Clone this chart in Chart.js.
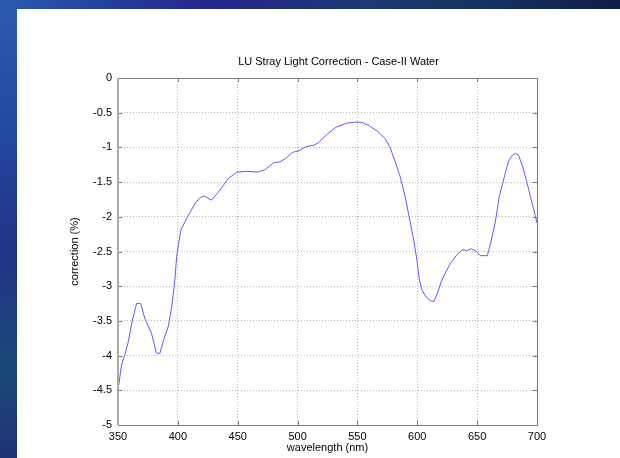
<!DOCTYPE html>
<html>
<head>
<meta charset="utf-8">
<script src="https://cdn.jsdelivr.net/npm/chart.js@4"></script>
<style>
  html, body { margin: 0; padding: 0; background: #fff; }
  #wrap { position: relative; width: 620px; height: 458px; overflow: hidden; background: #fff; }
  #topbar { position: absolute; left: 0; top: 0; width: 620px; height: 9px;
    background: linear-gradient(to right, #2b5cb0 0%, #263a98 20%, #24258a 35%, #1c3a72 60%, #16305e 80%, #0f1d44 100%); }
  #leftbar { position: absolute; left: 0; top: 0; width: 17px; height: 458px;
    background: linear-gradient(to bottom, #2b5cb0 0%, #2248a0 30%, #1f3486 55%, #1b4a78 80%, #1e3274 100%); }
  canvas { position: absolute; left: 0; top: 0; }
</style>
</head>
<body>
<div id="wrap">
  <div id="topbar"></div>
  <div id="leftbar"></div>
  <canvas id="grafico" width="620" height="458"></canvas>
</div>
<script>
// valori
const titolo = "LU Stray Light Correction - Case-II Water";
const lunghezzeOnda = [350, 353, 356, 358.6, 362, 365.5, 369, 372.5, 378, 382, 385, 388, 392, 395, 397.5, 399,
  400.5, 402.5, 406, 410, 415, 419, 422, 428, 435, 442, 449, 457, 467, 473, 480, 485, 490, 496, 501, 507, 513,
  517, 524, 532, 541, 549, 554, 560, 567, 573, 577, 581, 585.5, 590, 594, 597.5, 600, 601.5, 603.5, 607.5, 611,
  614, 617.5, 620.5, 627, 633, 638, 641, 645, 649.5, 652.5, 658.5, 661, 665, 668.5, 672, 676, 679, 682, 684.5,
  688.5, 692.5, 697, 700];
const correzione = [-4.50, -4.13, -3.97, -3.80, -3.49, -3.25, -3.25, -3.47, -3.68, -3.96, -3.97, -3.78, -3.58,
  -3.29, -2.91, -2.57, -2.40, -2.19, -2.07, -1.94, -1.79, -1.72, -1.70, -1.76, -1.62, -1.45, -1.36, -1.345,
  -1.355, -1.32, -1.22, -1.21, -1.16, -1.07, -1.05, -0.99, -0.97, -0.94, -0.82, -0.71, -0.65, -0.635, -0.64,
  -0.69, -0.77, -0.87, -0.99, -1.18, -1.41, -1.72, -2.07, -2.38, -2.66, -2.88, -3.04, -3.16, -3.21, -3.22,
  -3.07, -2.91, -2.69, -2.55, -2.47, -2.49, -2.46, -2.50, -2.56, -2.56, -2.40, -2.09, -1.71, -1.47, -1.21,
  -1.12, -1.085, -1.11, -1.30, -1.57, -1.88, -2.09];
const tickX = [350, 400, 450, 500, 550, 600, 650, 700];
const tickY = [0, -0.5, -1, -1.5, -2, -2.5, -3, -3.5, -4, -4.5, -5];

const font = { family: "'Liberation Sans', Arial, sans-serif", size: 11 };

// cornice, tacche interne e titolo sopra l'area del grafico
const cornice = {
  id: "cornice",
  afterDraw(chart) {
    const ctx = chart.ctx;
    const a = chart.chartArea;
    const sx = chart.scales.x, sy = chart.scales.y;
    ctx.save();
    ctx.strokeStyle = "#7a7a7a";
    ctx.lineWidth = 1;
    ctx.beginPath();
    tickX.forEach(function (v) {
      const px = Math.round(sx.getPixelForValue(v)) + 0.5;
      ctx.moveTo(px, a.bottom); ctx.lineTo(px, a.bottom - 4);
      ctx.moveTo(px, a.top); ctx.lineTo(px, a.top + 4);
    });
    tickY.forEach(function (v) {
      const py = Math.round(sy.getPixelForValue(v)) + 0.5;
      ctx.moveTo(a.left, py); ctx.lineTo(a.left + 4, py);
      ctx.moveTo(a.right, py); ctx.lineTo(a.right - 4, py);
    });
    ctx.stroke();
    ctx.strokeRect(Math.round(a.left) + 0.5, Math.round(a.top) + 0.5,
      Math.round(a.right - a.left), Math.round(a.bottom - a.top));
    ctx.strokeStyle = "#a8a8a8";
    ctx.lineWidth = 2;
    ctx.beginPath();
    ctx.moveTo(Math.round(a.left), a.top);
    ctx.lineTo(Math.round(a.left), a.bottom);
    ctx.stroke();

    ctx.fillStyle = "#000";
    ctx.font = "11px 'Liberation Sans', Arial, sans-serif";
    ctx.textAlign = "center";
    ctx.textBaseline = "middle";
    ctx.fillText(titolo, (a.left + a.right) / 2 + 11, 62);
    ctx.restore();
  }
};

new Chart(document.getElementById("grafico").getContext("2d"), {
  type: "line",
  data: {
    datasets: [{
      data: lunghezzeOnda.map(function (x, i) { return { x: x, y: correzione[i] }; }),
      borderColor: "#5c5cff",
      borderWidth: 1,
      pointRadius: 0,
      tension: 0,
      fill: false
    }]
  },
  options: {
    responsive: false,
    animation: false,
    layout: { padding: { top: 78, right: 83, bottom: 0, left: 0 } },
    plugins: {
      legend: { display: false },
      tooltip: { enabled: false },
      title: { display: false }
    },
    scales: {
      x: {
        type: "linear",
        min: 350,
        max: 700,
        afterBuildTicks: function (s) { s.ticks = tickX.map(function (v) { return { value: v }; }); },
        afterFit: function (s) { s.height = 33; },
        grid: { color: "#b8b8b8", drawTicks: false },
        border: { display: false, dash: [1, 2] },
        ticks: { color: "#000", font: font, padding: 5, maxRotation: 0, callback: function (v) { return String(v); } },
        title: { display: true, text: "wavelength (nm)", color: "#000", font: font, padding: { top: 0, bottom: 3.4 } }
      },
      y: {
        type: "linear",
        min: -5,
        max: 0,
        afterBuildTicks: function (s) { s.ticks = tickY.map(function (v) { return { value: v }; }); },
        afterFit: function (s) { s.width = 118; },
        grid: { color: "#b8b8b8", drawTicks: false },
        border: { display: false, dash: [1, 2] },
        ticks: { color: "#000", font: font, padding: 6, callback: function (v) { return String(v); } },
        title: { display: true, text: "correction (%)", color: "#000", font: font, padding: { top: 68.4, bottom: 0 } }
      }
    }
  },
  plugins: [cornice]
});
</script>
</body>
</html>
